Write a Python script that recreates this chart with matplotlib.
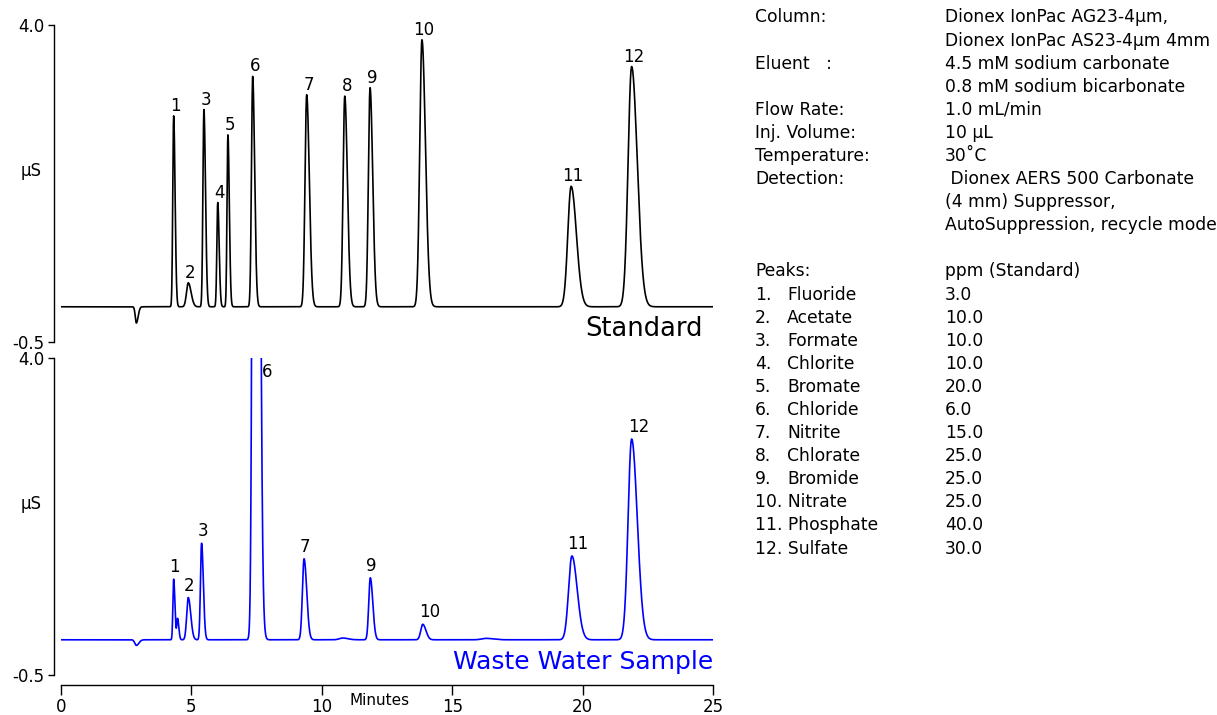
import numpy as np
import matplotlib
matplotlib.use("Agg")
import matplotlib.pyplot as plt

plt.rcParams['font.family'] = ['DejaVu Sans']

# peak table: retention time (min), height (uS), width (min)
std_time = [2.89, 4.32, 4.88, 5.48, 6.01, 6.40, 7.35, 9.42, 10.88, 11.85, 13.84, 19.56, 21.88]
std_height = [-0.23, 2.71, 0.34, 2.80, 1.48, 2.44, 3.27, 3.01, 2.99, 3.11, 3.79, 1.71, 3.41]
std_width = [0.05, 0.04, 0.08, 0.045, 0.04, 0.04, 0.055, 0.075, 0.075, 0.075, 0.10, 0.15, 0.16]
std_label = ['', '1', '2', '3', '4', '5', '6', '7', '8', '9', '10', '11', '12']

ww_time = [2.89, 4.32, 4.47, 4.88, 5.39, 7.45, 9.32, 10.8, 11.86, 13.87, 16.3, 19.59, 21.88]
ww_height = [-0.08, 0.86, 0.30, 0.60, 1.37, 30.0, 1.15, 0.025, 0.88, 0.22, 0.02, 1.19, 2.85]
ww_width = [0.07, 0.035, 0.035, 0.07, 0.05, 0.085, 0.075, 0.15, 0.07, 0.09, 0.2, 0.15, 0.16]
ww_label = ['', '1', '', '2', '3', '6', '7', '', '9', '10', '', '11', '12']

info_keys = ['Column:', '', 'Eluent   :', '', 'Flow Rate:', 'Inj. Volume:',
             'Temperature:', 'Detection:', '', '']
info_vals = ['Dionex IonPac AG23-4µm,', 'Dionex IonPac AS23-4µm 4mm',
             '4.5 mM sodium carbonate', '0.8 mM sodium bicarbonate',
             '1.0 mL/min', '10 µL', '30˚C', ' Dionex AERS 500 Carbonate',
             '(4 mm) Suppressor,', 'AutoSuppression, recycle mode']

peak_names = ['Fluoride', 'Acetate', 'Formate', 'Chlorite', 'Bromate', 'Chloride',
              'Nitrite', 'Chlorate', 'Bromide', 'Nitrate', 'Phosphate', 'Sulfate']
peak_ppm = ['3.0', '10.0', '10.0', '10.0', '20.0', '6.0',
            '15.0', '25.0', '25.0', '25.0', '40.0', '30.0']

t = np.linspace(0, 25, 5001)
FS = 12
FS_INFO = 12.3


def trace(times, heights, widths):
    y = np.zeros_like(t)
    for t0, h, w in zip(times, heights, widths):
        # a bit of tailing: wider on the right side
        s = np.where(t < t0, w * 0.85, w * 1.35)
        y += h * np.exp(-0.5 * ((t - t0) / s) ** 2)
    return y


W, H = 1217, 715
fig = plt.figure(figsize=(W / 100, H / 100), dpi=100)

x0, x1 = 61 / W, 713 / W
ax1 = fig.add_axes([x0, 1 - 342 / H, x1 - x0, 317 / H])
ax2 = fig.add_axes([x0, 1 - 675 / H, x1 - x0, 317 / H])


def style(ax, show_x):
    ax.set_xlim(0, 25)
    ax.set_ylim(-0.5, 4.0)
    for s in ['top', 'right']:
        ax.spines[s].set_visible(False)
    ax.spines['left'].set_position(('outward', 5))
    ax.spines['left'].set_linewidth(1.0)
    ax.set_yticks([-0.5, 4.0])
    ax.set_yticklabels(['-0.5', '4.0'])
    ax.tick_params(axis='y', length=4.3, width=1.0, labelsize=FS, pad=2.5)
    ax.text(-0.046, 0.54, 'µS', transform=ax.transAxes, fontsize=FS,
            ha='center', va='center')
    if show_x:
        ax.spines['bottom'].set_position(('outward', 7.2))
        ax.spines['bottom'].set_linewidth(1.0)
        ax.set_xticks([0, 5, 10, 15, 20, 25])
        ax.tick_params(axis='x', length=7.2, width=1.0, labelsize=FS, pad=2)
    else:
        ax.spines['bottom'].set_visible(False)
        ax.set_xticks([])


style(ax1, False)
style(ax2, True)

ax1.plot(t, trace(std_time, std_height, std_width), color='black', lw=1.2)
ax2.plot(t, trace(ww_time, ww_height, ww_width), color='#0000ff', lw=1.2)

for t0, h, lab in zip(std_time, std_height, std_label):
    if lab:
        ax1.annotate(lab, (t0, h), xytext=(2, 5), textcoords='offset pixels',
                     ha='center', va='baseline', fontsize=FS)

label_dx = {'10': 7, '11': 6, '12': 7}
for t0, h, lab in zip(ww_time, ww_height, ww_label):
    if not lab:
        continue
    if lab == '6':
        ax2.text(7.9, 3.8, lab, ha='center', va='center', fontsize=FS)
        continue
    ax2.annotate(lab, (t0, h), xytext=(label_dx.get(lab, 1), 7), textcoords='offset pixels',
                 ha='center', va='baseline', fontsize=FS)

ax1.text(24.6, -0.5, 'Standard', ha='right', va='bottom', fontsize=18.5)
ax2.text(25, -0.48, 'Waste Water Sample', ha='right', va='bottom', fontsize=18,
         color='#0000ff')
ax2.text(12.2, -0.86, 'Minutes', ha='center', va='center', fontsize=11)

# method info on the right
lh = 23.1
for i, (k, v) in enumerate(zip(info_keys, info_vals)):
    y = 1 - (17.5 + i * lh) / H
    if k:
        fig.text(755 / W, y, k, fontsize=FS_INFO, va='center')
    fig.text(945 / W, y, v, fontsize=FS_INFO, va='center')

y = 1 - (271 / H)
fig.text(755 / W, y, 'Peaks:', fontsize=FS_INFO, va='center')
fig.text(945 / W, y, 'ppm (Standard)', fontsize=FS_INFO, va='center')
for i, (nm, ppm) in enumerate(zip(peak_names, peak_ppm)):
    y = 1 - (294.5 + i * 23.1) / H
    num = f'{i + 1}.'
    if i < 9:
        fig.text(755 / W, y, num, fontsize=FS_INFO, va='center')
        fig.text(787 / W, y, nm, fontsize=FS_INFO, va='center')
    else:
        fig.text(755 / W, y, num + ' ' + nm, fontsize=FS_INFO, va='center')
    fig.text(945 / W, y, ppm, fontsize=FS_INFO, va='center')

fig.savefig('out.png', dpi=100)
